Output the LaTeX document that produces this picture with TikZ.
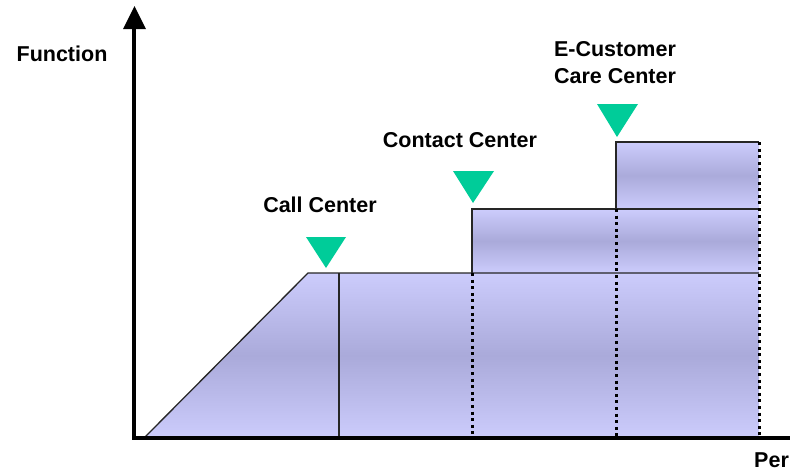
\documentclass[tikz,border=0pt]{standalone}
\usepackage{fontspec}
\setmainfont{Liberation Sans}
\definecolor{bandlight}{RGB}{204,204,252}
\definecolor{banddark}{RGB}{170,170,218}
\definecolor{markergreen}{RGB}{0,204,153}
\begin{document}
\begin{tikzpicture}[x=1pt,y=-1pt,
  lbl/.style={font=\bfseries\fontsize{21.5}{27}\selectfont, inner sep=0pt, align=center},
  band/.style={top color=bandlight, bottom color=bandlight, middle color=banddark},
  edge/.style={draw=black!85, line width=1.3pt},
  dots/.style={line width=3pt, dash pattern=on 3pt off 3.6pt},
  marker/.style={fill=markergreen},
  axis/.style={line width=3.5pt}]
\useasboundingbox (0,0) rectangle (790,472);

% key points of the step profile
\coordinate (o) at (134,438);
\coordinate (ramp) at (144,438);
\coordinate (l1) at (308,273);
\coordinate (div) at (339,273);
\coordinate (c2) at (472,273);
\coordinate (c2t) at (472,209);
\coordinate (c3) at (616,209);
\coordinate (c3t) at (616,142);
\coordinate (r1) at (759,273);
\coordinate (r2) at (759,209);
\coordinate (r3) at (759,142);
\coordinate (ymax) at (134,26);
\coordinate (xmax) at (790,438);

% shaded bands
\shade[band] (ramp) -- (l1) -- (r1) -- (759,438) -- cycle;
\shade[band] (c2t) rectangle (r1);
\shade[band] (c3t) rectangle (r2);

% solid outlines
\draw[edge] (ramp) -- (l1) -- (r1);
\draw[edge] (c2) -- (c2t) -- (r2);
\draw[edge] (c3) -- (c3t) -- (r3);
\draw[edge] (div) -- (339,438);

% dotted dividers
\draw[dots] (c2) -- (472,438);
\draw[dots] (c3) -- (616,438);
\draw[dots] (r3) -- (759,438);

% stage markers
\fill[marker] (306,237) -- (346,237) -- (326,268) -- cycle;
\fill[marker] (453,171) -- (494,171) -- (473,203) -- cycle;
\fill[marker] (597,104) -- (638,104) -- (617,137) -- cycle;

% axes
\draw[axis] (o) -- (ymax);
\fill (123,29) -- (146,29) -- (134.5,6) -- cycle;
\draw[axis] (132,438) -- (xmax);

% labels
\node[lbl] (fn) at (62,54) {Function};
\node[lbl] (cc) at (320,205) {Call Center};
\node[lbl] (ctc) at (460,140) {Contact Center};
\node[lbl] (ecc) at (615,63) {E-Customer\\Care Center};
\node[lbl, anchor=base west] (per) at (754,467) {Per};
\end{tikzpicture}
\end{document}
